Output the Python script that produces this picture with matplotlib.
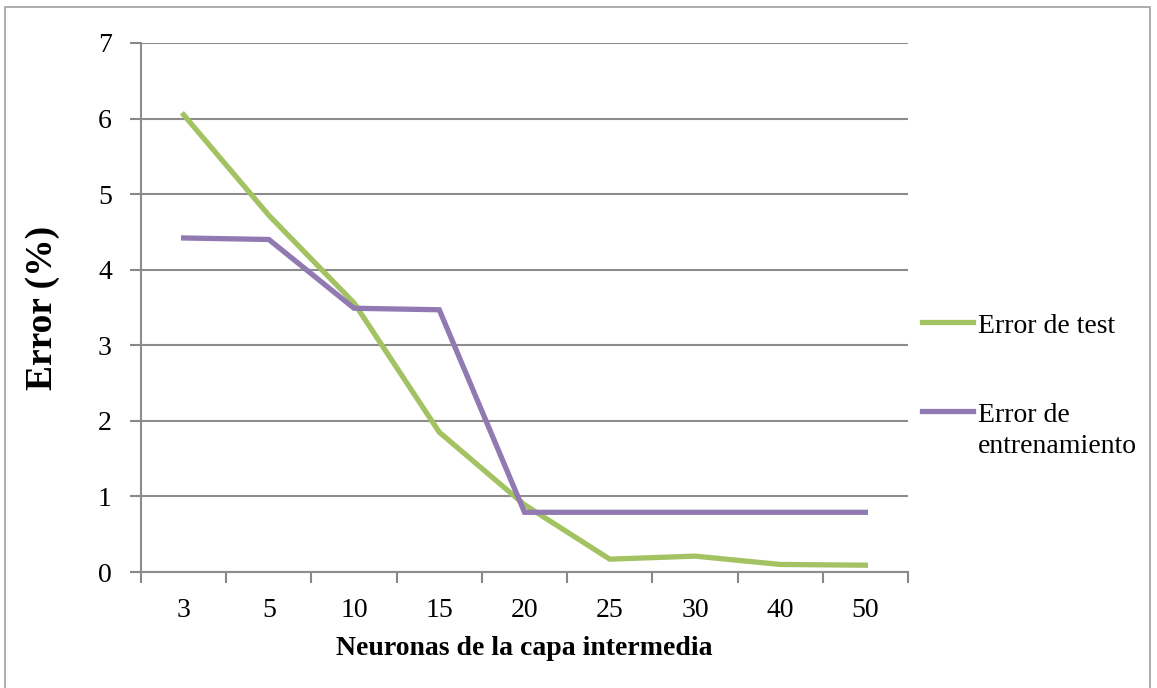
import matplotlib
matplotlib.use("Agg")
import matplotlib.pyplot as plt
from matplotlib.lines import Line2D
from matplotlib.patches import Rectangle

# data
neuronas = ["3", "5", "10", "15", "20", "25", "30", "40", "50"]
error_test = [6.05, 4.72, 3.56, 1.85, 0.89, 0.17, 0.21, 0.10, 0.09]
error_train = [4.42, 4.40, 3.49, 3.47, 0.79, 0.79, 0.79, 0.79, 0.79]
y_ticks = [0, 1, 2, 3, 4, 5, 6, 7]

GREEN = '#A3C262'
PURPLE = '#9179B1'

plt.rcParams['font.family'] = ['Liberation Serif', 'DejaVu Serif']

W, H = 1157, 688
fig = plt.figure(figsize=(W / 100, H / 100), dpi=100)
ax = fig.add_axes([141 / W, 1 - 572 / H, 767 / W, 529 / H])

x = list(range(len(neuronas)))
ax.plot(x, error_test, color=GREEN, lw=3.8, solid_joinstyle='miter')
ax.plot(x, error_train, color=PURPLE, lw=3.8, solid_joinstyle='miter')

ax.set_xlim(-0.5, len(neuronas) - 0.5)
ax.set_ylim(0, 7)
ax.set_yticks(y_ticks)
ax.set_xticks(x)
ax.set_xticklabels(neuronas)
ax.set_xticks([i - 0.5 for i in range(len(neuronas) + 1)], minor=True)
ax.tick_params(axis='x', which='major', length=0, pad=19, labelsize=20)
ax.tick_params(axis='x', which='minor', length=8, color='#888888', width=1.5)
ax.tick_params(axis='y', length=8, color='#888888', width=1.5, pad=13, labelsize=20)

ax.grid(axis='y', color='#8c8c8c', lw=1.5)
ax.set_axisbelow(True)
for side in ['top', 'right']:
    ax.spines[side].set_visible(False)
for side in ['left', 'bottom']:
    ax.spines[side].set_color('#8c8c8c')
    ax.spines[side].set_linewidth(1.5)

ax.set_xlabel('Neuronas de la capa intermedia', fontsize=20, fontweight='bold',
              labelpad=9)
ax.set_ylabel('Error (%)', fontsize=27, fontweight='bold')
ax.yaxis.set_label_coords(-0.105, 0.5)

# legend drawn by hand so the purple key sits on the first text line
def fx(px):
    return px / W

def fy(py):
    return 1 - py / H

fig.add_artist(Line2D([fx(922), fx(973)], [fy(322), fy(322)], color=GREEN,
                      lw=3.8, transform=fig.transFigure))
fig.add_artist(Line2D([fx(922), fx(973)], [fy(411), fy(411)], color=PURPLE,
                      lw=3.8, transform=fig.transFigure))
fig.text(fx(978), fy(333), 'Error de test', fontsize=20, va='baseline')
fig.text(fx(978), fy(422), 'Error de', fontsize=20, va='baseline')
fig.text(fx(978), fy(453), 'entrenamiento', fontsize=20, va='baseline')

fig.patches.append(Rectangle((5 / W, -0.01), 1145 / W, 1 - 7 / H + 0.01,
                             transform=fig.transFigure, fill=False,
                             edgecolor='#a0a0a0', lw=1.2))

fig.savefig('out.png', dpi=100)
